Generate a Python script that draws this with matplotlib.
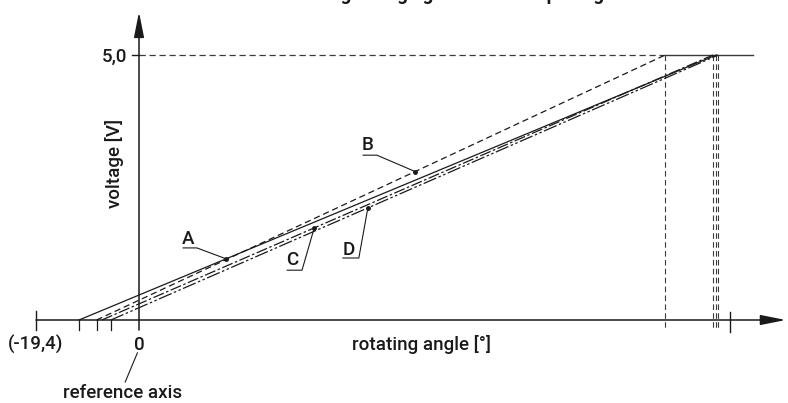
import matplotlib
matplotlib.use("Agg")
import matplotlib.pyplot as plt
import numpy as np

# ---- data ----
series = ["A", "B", "C", "D"]
start_angle = [-11.3, -8.0, -7.0, -5.3]      # degrees where output = 0 V
end_angle = [108.7, 99.1, 108.1, 109.1]      # degrees where output = 5.0 V
v_low = [0.0, 0.0, 0.0, 0.0]
v_high = [5.0, 5.0, 5.0, 5.0]
label_dot_angle = [16.4, 52.0, 33.0, 43.1]
x_left_label = "(-19,4)"
x_left_value = -19.4
y_top_label = "5,0"
y_top_value = 5.0
title = "Analog voltage gradient of output signal"

styles = {
    "A": dict(ls="-"),
    "B": dict(ls=(0, (5, 3))),
    "C": dict(ls=(0, (9, 2, 2, 2))),
    "D": dict(ls=(0, (11, 2, 2, 2, 2, 2))),
}

W, H = 788, 403
fig = plt.figure(figsize=(W / 100, H / 100), dpi=100)
ax = fig.add_axes([0, 0, 1, 1])
ax.axis("off")

# pixel scale of the drawing
x0px, y0px = 139, 320
sx, sy = 5.31, 53.0
ax.set_xlim(-x0px / sx, (W - x0px) / sx)
ax.set_ylim(-(H - y0px) / sy, y0px / sy)

font = ["Roboto", "DejaVu Sans"]
fs = 13.5
fw = "medium"
dark = "#1a1a1a"
grey = "#3a3a3a"

# axes with arrows
ax.annotate("", xy=(0, 5.81), xytext=(0, -0.19),
            arrowprops=dict(arrowstyle="-|>,head_length=1.1,head_width=0.22",
                            mutation_scale=14, lw=1.1, color=dark, shrinkA=0, shrinkB=0))
ax.annotate("", xy=(121.8, 0), xytext=(x_left_value, 0),
            arrowprops=dict(arrowstyle="-|>,head_length=1.1,head_width=0.22",
                            mutation_scale=14, lw=1.1, color=dark, shrinkA=0, shrinkB=0))

# ticks
ax.plot([x_left_value, x_left_value], [0.17, -0.19], color=dark, lw=1.0)
ax.plot([111.3, 111.3], [0.15, -0.23], color=dark, lw=1.0)
for i in (0, 1, 3):
    ax.plot([start_angle[i]] * 2, [0, -0.19], color=dark, lw=0.9)
ax.plot([-1.3, 0], [y_top_value] * 2, color=dark, lw=1.0)

# reference lines at 5.0
b_end = end_angle[1]
ax.plot([0, b_end], [y_top_value] * 2, color=grey, lw=0.9, ls=(0, (5, 3)))
ax.plot([b_end, 115.7], [y_top_value] * 2, color=grey, lw=1.0)
for e in end_angle:
    ax.plot([e, e], [y_top_value, -0.19], color=grey, lw=0.8, ls=(0, (5, 3)))

# characteristic lines
for name, xs, xe, vl, vh in zip(series, start_angle, end_angle, v_low, v_high):
    ax.plot([xs, xe], [vl, vh], color=dark, lw=0.9, **styles[name])

# labels with leaders
label_txt = {"A": (9.2, 1.53), "B": (43.1, 3.30), "C": (28.8, 1.13), "D": (39.5, 1.32)}
underline = {"A": (8.3, 10.9, 1.36), "B": (42.2, 44.8, 3.11),
             "C": (27.9, 30.7, 0.94), "D": (38.4, 41.4, 1.17)}
for name, xs, xe, vl, vh, da in zip(series, start_angle, end_angle, v_low, v_high, label_dot_angle):
    dv = np.interp(da, [xs, xe], [vl, vh])
    tx, ty = label_txt[name]
    u0, u1, uy = underline[name]
    ax.text(tx, ty, name, family=font, fontsize=fs, fontweight=fw, color=dark, ha="center", va="center")
    ax.plot([u0, u1, da], [uy, uy, dv], color=dark, lw=0.8)
    ax.plot([da], [dv], "o", color=dark, ms=2.5)

# texts
kw = dict(family=font, fontsize=fs, fontweight=fw, color=dark, va="center")
ax.text(x_left_value, -0.47, x_left_label, ha="center", **kw)
ax.text(0, -0.47, "0", ha="center", **kw)
ax.text(53.2, -0.47, "rotating angle [°]", ha="center", **kw)
ax.text(-4.6, y_top_value - 0.03, y_top_label, ha="center", **kw)
ax.text(-4.6, 2.95, "voltage [V]", ha="center", rotation=90, **kw)
ax.plot([-0.3, -2.6], [-0.62, -1.17], color=dark, lw=0.8)
ax.text(-3.1, -1.38, "reference axis", ha="center", **kw)

# title is cropped at the top edge in the reference
fig.text(461 / W, 1 - 0.5 / H, title, family=font, fontsize=fs, fontweight="bold",
         color=dark, ha="center", va="baseline")

fig.savefig("out.png", dpi=100)
